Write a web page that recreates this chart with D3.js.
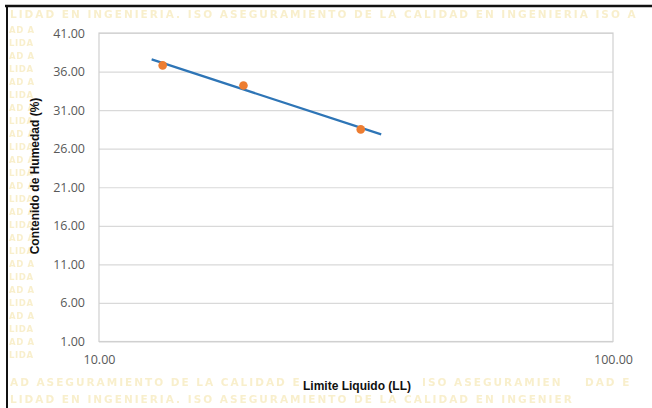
<!DOCTYPE html>
<html>
<head>
<meta charset="utf-8">
<script src="https://cdn.jsdelivr.net/npm/d3@7"></script>
<style>
  html, body { margin: 0; padding: 0; background: #fff; }
  svg { display: block; }
</style>
</head>
<body>
<svg id="chart" width="652" height="408"></svg>
<script>
// Liquid limit test: moisture content points and logarithmic trendline
const limiteLiquido = [13.3, 19.1, 32.3];
const humedad = [36.8, 34.2, 28.5];
const trendRange = [12.66, 35.4];
const yTicks = [1, 6, 11, 16, 21, 26, 31, 36, 41];
const xTicks = [10, 100];

const W = 652, H = 408;
const margin = { left: 99, right: 39, top: 33, bottom: 66 };
const svg = d3.select("#chart");

// faint background lettering around the chart panel
const defs = svg.append("defs");
defs.append("filter").attr("id", "soft")
  .append("feGaussianBlur").attr("stdDeviation", 0.7);

const wm = svg.append("g").attr("filter", "url(#soft)")
  .attr("fill", "#f4e2a4").attr("opacity", 0.55)
  .style("font-family", "'DejaVu Sans', sans-serif").style("font-weight", "bold")
  .style("font-size", "10.5px").style("letter-spacing", "2px");
wm.append("text").attr("x", 10).attr("y", 18)
  .text("LIDAD EN INGENIERIA. ISO ASEGURAMIENTO DE LA CALIDAD EN INGENIERIA ISO A");
wm.append("text").attr("x", 10).attr("y", 386)
  .text("AD ASEGURAMIENTO DE LA CALIDAD EN");
wm.append("text").attr("x", 422).attr("y", 386)
  .text("ISO ASEGURAMIEN");
wm.append("text").attr("x", 585).attr("y", 386)
  .text("DAD E");
wm.append("text").attr("x", 10).attr("y", 403)
  .text("LIDAD EN INGENIERIA. ISO ASEGURAMIENTO DE LA CALIDAD EN INGENIER");
const strip = wm.append("g").style("font-size", "8.5px").style("letter-spacing", "0.6px");
d3.range(26).forEach(i => {
  strip.append("text").attr("x", 9).attr("y", 33 + i * 13)
    .text(i % 2 === 0 ? "AD A" : "LIDA");
});

// white chart panel
svg.append("rect").attr("x", 40).attr("y", 22).attr("width", W - 40).attr("height", 353)
  .attr("fill", "#fff");

// page frame lines
svg.append("line").attr("x1", 5).attr("x2", W).attr("y1", 6).attr("y2", 6)
  .attr("stroke", "#111").attr("stroke-width", 2.5);
svg.append("line").attr("x1", 7).attr("x2", 7).attr("y1", 5).attr("y2", H)
  .attr("stroke", "#111").attr("stroke-width", 2);

const x = d3.scaleLog().domain([10, 100]).range([margin.left, W - margin.right]);
const y = d3.scaleLinear().domain([1, 41]).range([H - margin.bottom - 0.5, margin.top]);

// horizontal gridlines and value labels
const yAxis = d3.axisLeft(y).tickValues(yTicks).tickFormat(d3.format(".2f"))
  .tickSize(-(x.range()[1] - x.range()[0])).tickPadding(14);
const gy = svg.append("g").attr("transform", `translate(${margin.left},0)`).call(yAxis);
gy.select(".domain").remove();
gy.selectAll(".tick line").attr("stroke", "#d9d9d9").attr("stroke-width", 1.2);
gy.selectAll(".tick text").attr("fill", "#595959")
  .style("font-family", "'Open Sans', sans-serif").style("font-size", "12.5px");

// plot area border
svg.append("rect").attr("x", x.range()[0]).attr("y", y.range()[1])
  .attr("width", x.range()[1] - x.range()[0]).attr("height", y.range()[0] - y.range()[1])
  .attr("fill", "none").attr("stroke", "#d0d0d0").attr("stroke-width", 1.2);

const xAxis = d3.axisBottom(x).tickValues(xTicks).tickFormat(d3.format(".2f"))
  .tickSize(0).tickPadding(14);
const gx = svg.append("g").attr("transform", `translate(0,${y.range()[0]})`).call(xAxis);
gx.select(".domain").remove();
gx.selectAll(".tick text").attr("fill", "#595959")
  .style("font-family", "'Open Sans', sans-serif").style("font-size", "12.5px");

// least-squares logarithmic trendline y = a + b ln(x)
const lx = limiteLiquido.map(Math.log);
const mx = d3.mean(lx), my = d3.mean(humedad);
const b = d3.sum(lx, (v, i) => (v - mx) * (humedad[i] - my)) / d3.sum(lx, v => (v - mx) ** 2);
const a = my - b * mx;
const trend = trendRange.map(v => [v, a + b * Math.log(v)]);

svg.append("path").datum(trend)
  .attr("d", d3.line().x(d => x(d[0])).y(d => y(d[1])))
  .attr("stroke", "#2e75b6").attr("stroke-width", 2.3).attr("fill", "none");

svg.append("g").selectAll("circle").data(limiteLiquido).join("circle")
  .attr("cx", d => x(d)).attr("cy", (d, i) => y(humedad[i]))
  .attr("r", 4.3).attr("fill", "#ed7d31");

// axis titles
svg.append("rect").attr("x", 300).attr("y", 377).attr("width", 115).attr("height", 16).attr("fill", "#fff");
svg.append("text").attr("x", 357).attr("y", 390).attr("text-anchor", "middle")
  .style("font-family", "'Liberation Sans Narrow', 'Arial Narrow', sans-serif")
  .style("font-weight", "bold").style("font-size", "12px").attr("fill", "#111")
  .text("Limite Liquido (LL)");
svg.append("text").attr("transform", "translate(39,176) rotate(-90)").attr("text-anchor", "middle")
  .style("font-family", "'Liberation Sans Narrow', 'Arial Narrow', sans-serif")
  .style("font-weight", "bold").style("font-size", "12px").attr("fill", "#111")
  .text("Contenido de Humedad (%)");
</script>
</body>
</html>
